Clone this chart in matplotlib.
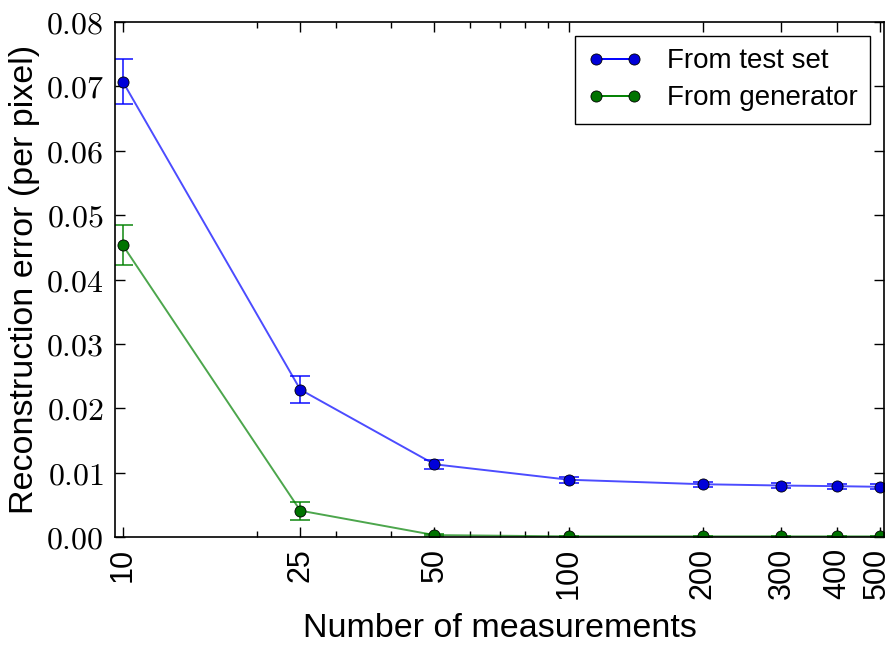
import numpy as np
import matplotlib
matplotlib.use("Agg")
import matplotlib.pyplot as plt
import matplotlib.transforms as mtransforms
from matplotlib.lines import Line2D
from matplotlib.ticker import FixedLocator, FixedFormatter, NullFormatter

# measurements on the x axis
n_meas = [10, 25, 50, 100, 200, 300, 400, 500]
x_tick_labels = ["10", "25", "50", "100", "200", "300", "400", "500"]

# reconstruction error per pixel
test_err = [0.0707, 0.0229, 0.0113, 0.0089, 0.0082, 0.0080, 0.0079, 0.0078]
test_std = [0.0035, 0.0021, 0.0007, 0.0005, 0.0004, 0.0004, 0.0004, 0.0004]
gen_err = [0.0453, 0.0041, 0.0003, 0.0001, 0.0001, 0.0001, 0.0001, 0.0001]
gen_std = [0.0031, 0.0014, 0.0002, 0.0001, 0.0001, 0.0001, 0.0001, 0.0001]

y_ticks = [0.0, 0.01, 0.02, 0.03, 0.04, 0.05, 0.06, 0.07, 0.08]
y_tick_labels = ["$%.2f$" % v for v in y_ticks]

plt.rcParams["font.family"] = ["Liberation Sans", "DejaVu Sans"]
plt.rcParams["mathtext.fontset"] = "cm"

fig = plt.figure(figsize=(8.93, 6.45), dpi=100)
ax = fig.add_axes([0.1288, 0.1674, 0.8612, 0.7985])

series = [
    (test_err, test_std, (0.0, 0.0, 1.0), (0.0, 0.0, 0.85), "From test set"),
    (gen_err, gen_std, (0.0, 0.5, 0.0), (0.0, 0.45, 0.0), "From generator"),
]

for err, std, col, mcol, lab in series:
    ax.errorbar(n_meas, err, yerr=std, fmt="none", ecolor=col,
                elinewidth=1.3, capsize=7, capthick=1.3, alpha=0.8)
    ax.plot(n_meas, err, "-", color=col, lw=1.4, alpha=0.7)
    ax.plot(n_meas, err, "o", color=mcol, ms=8, mec="black", mew=0.6)

# legend shows line + marker together, no error bars
handles = [
    Line2D([], [], color=col, lw=1.4, marker="o", ms=8, mfc=mcol,
           mec="black", mew=0.6, label=lab)
    for _, _, col, mcol, lab in series
]
leg = ax.legend(handles=handles, loc="upper right", numpoints=2,
                fontsize=20, fancybox=False, framealpha=1,
                edgecolor="black", borderaxespad=0.5, handlelength=1.95,
                handletextpad=0.9, labelspacing=0.4, borderpad=0.45)
leg.get_frame().set_linewidth(1.0)

ax.set_xscale("log")
ax.set_xlim(9.6, 510)
ax.set_ylim(0, 0.08)

ax.xaxis.set_major_locator(FixedLocator(n_meas))
ax.xaxis.set_major_formatter(FixedFormatter(x_tick_labels))
ax.xaxis.set_minor_formatter(NullFormatter())
ax.yaxis.set_major_locator(FixedLocator(y_ticks))
ax.yaxis.set_major_formatter(FixedFormatter(y_tick_labels))

ax.tick_params(which="both", direction="in", top=True, right=True)
ax.tick_params(which="major", length=7, width=1)
ax.tick_params(which="minor", length=4, width=1)
ax.tick_params(axis="x", labelsize=22, labelrotation=90, pad=8)
ax.tick_params(axis="y", labelsize=23, pad=8)

# nudge the last x label a little left so it stays inside the figure
fig.canvas.draw()
last = ax.get_xticklabels()[-1]
last.set_transform(last.get_transform() +
                   mtransforms.ScaledTranslation(-3 / 100, 0, fig.dpi_scale_trans))

for sp in ax.spines.values():
    sp.set_linewidth(1.2)

ax.set_xlabel("Number of measurements", fontsize=24.5, labelpad=10)
ax.set_ylabel("Reconstruction error (per pixel)", fontsize=24.5, labelpad=4)

fig.savefig("out.png", dpi=100)
